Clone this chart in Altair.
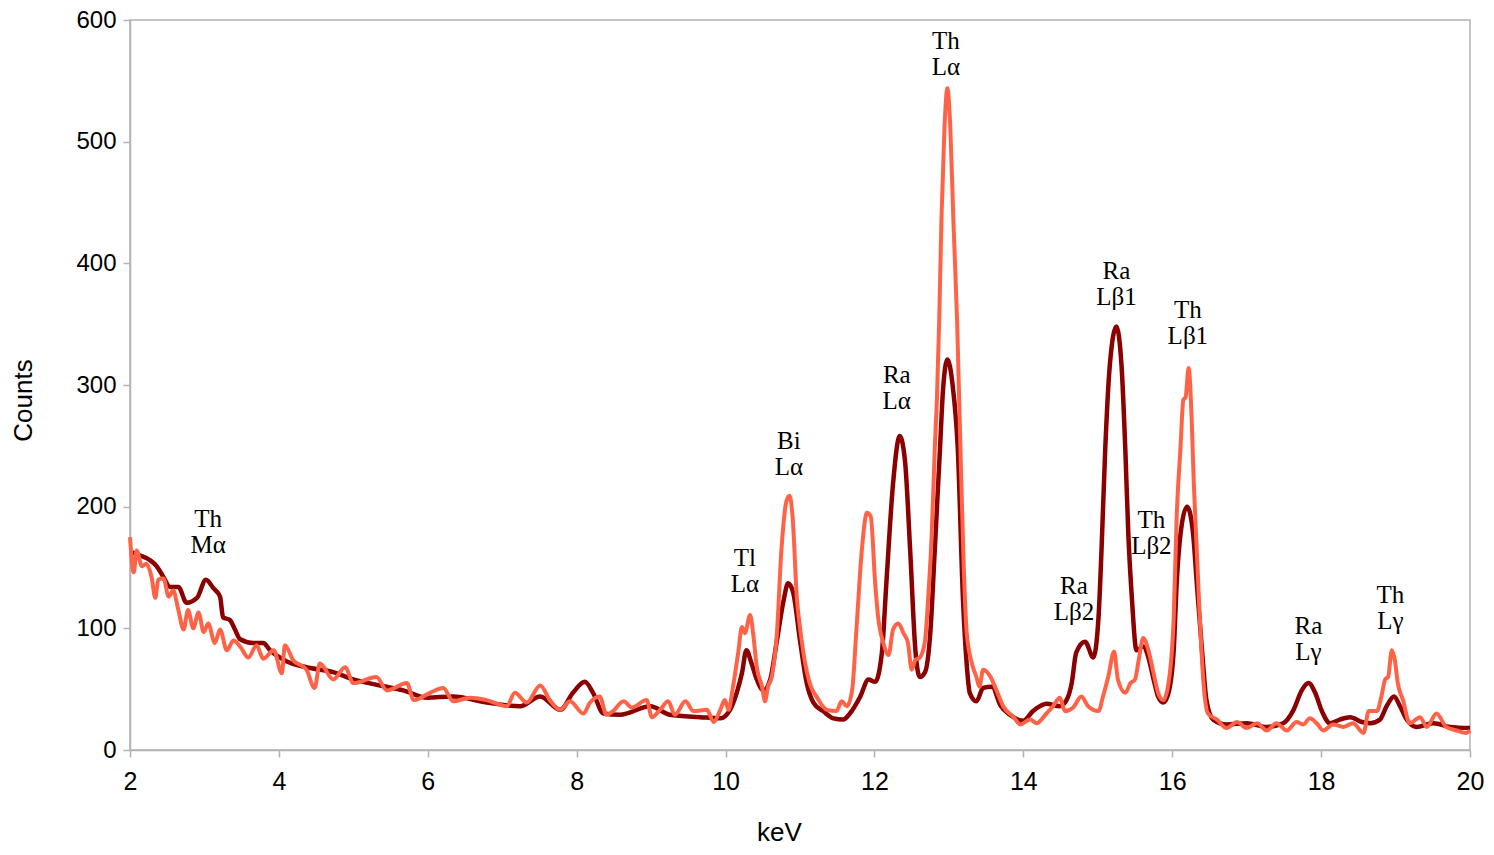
import altair as alt
import pandas as pd

# Series 1 (dark red)
dark_kev = [2.00, 2.13, 2.27, 2.36, 2.45, 2.54, 2.65, 2.76, 2.90, 3.02, 3.12, 3.21, 3.25, 3.34, 3.41,
            3.48, 3.65, 3.79, 3.88, 4.10, 4.37, 4.73, 5.00, 5.36, 5.67, 5.99, 6.34, 6.79, 7.24, 7.51,
            7.78, 7.95, 8.11, 8.22, 8.36, 8.58, 8.99, 9.25, 9.66, 9.93, 10.06, 10.15, 10.22, 10.28,
            10.35, 10.42, 10.51, 10.60, 10.69, 10.78, 10.84, 10.91, 11.00, 11.09, 11.18, 11.31, 11.45,
            11.58, 11.67, 11.81, 11.92, 12.01, 12.10, 12.16, 12.25, 12.34, 12.41, 12.48, 12.55, 12.61,
            12.68, 12.75, 12.81, 12.88, 12.92, 12.98, 13.05, 13.12, 13.19, 13.24, 13.28, 13.37,
            13.46, 13.58, 13.69, 13.82, 14.00, 14.13, 14.31, 14.49, 14.58, 14.65, 14.71, 14.83, 14.94,
            15.01, 15.05, 15.10, 15.16, 15.25, 15.32, 15.37, 15.41, 15.46, 15.52, 15.61, 15.68, 15.75,
            15.81, 15.88, 15.95, 16.02, 16.06, 16.13, 16.20, 16.28, 16.33, 16.40, 16.46, 16.55, 16.73,
            17.00, 17.27, 17.49, 17.63, 17.74, 17.83, 17.92, 18.01, 18.12, 18.25, 18.39, 18.55, 18.66,
            18.79, 18.88, 18.98, 19.06, 19.15, 19.28, 19.51, 19.73, 20.00]
dark_counts = [163, 160, 156, 151, 142, 134, 134, 121, 125, 140, 133, 126, 109, 107, 99,
               91, 88, 88, 82, 73, 68, 64, 58, 53, 49, 43, 44, 39, 36, 44,
               33, 47, 56, 47, 30, 29, 36, 29, 27, 26, 33, 47, 63, 82,
               71, 58, 49, 58, 90, 123, 137, 129, 90, 55, 39, 32, 26,
               25, 30, 44, 58, 56, 80, 137, 219, 258, 238, 164, 82, 60,
               64, 96, 164, 247, 295, 321, 300, 247, 123, 70, 47, 40,
               51, 52, 37, 29, 24, 32, 38, 36, 41, 55, 80, 89, 76,
               109, 164, 247, 315, 348, 315, 247, 178, 123, 82, 85, 76, 58,
               44, 39, 47, 82, 137, 186, 200, 178, 137, 82, 41, 25, 21,
               22, 19, 22, 33, 49, 55, 47, 32, 22, 25, 27, 23, 22,
               25, 36, 44, 36, 25, 19, 22, 19, 18]

# Series 2 (light red)
light_kev = [2.00, 2.05, 2.09, 2.16, 2.22, 2.29, 2.34, 2.38, 2.45, 2.52, 2.58, 2.65, 2.72, 2.78, 2.85,
             2.92, 2.99, 3.05, 3.14, 3.21, 3.30, 3.39, 3.48, 3.59, 3.70, 3.79, 3.93, 4.04, 4.08, 4.19,
             4.37, 4.48, 4.55, 4.73, 4.89, 5.00, 5.31, 5.45, 5.72, 5.81, 6.03, 6.21, 6.34, 6.57, 6.79,
             7.06, 7.17, 7.33, 7.51, 7.64, 7.78, 7.91, 8.09, 8.18, 8.31, 8.40, 8.49, 8.63, 8.74, 8.94,
             9.01, 9.12, 9.23, 9.32, 9.46, 9.57, 9.75, 9.84, 9.93, 9.99, 10.04, 10.10, 10.17, 10.22,
             10.26, 10.33, 10.37, 10.42, 10.49, 10.53, 10.57, 10.62, 10.69, 10.75, 10.82, 10.86, 10.90,
             10.96, 11.00, 11.07, 11.13, 11.22, 11.36, 11.49, 11.56, 11.63, 11.70, 11.76, 11.83, 11.90,
             11.95, 12.01, 12.05, 12.12, 12.19, 12.25, 12.32, 12.39, 12.45, 12.50, 12.55, 12.61, 12.68,
             12.72, 12.77, 12.81, 12.84, 12.87, 12.90, 12.94, 12.98, 13.02, 13.06, 13.11, 13.15, 13.20,
             13.24, 13.31, 13.37, 13.41, 13.46, 13.56, 13.64, 13.73, 13.87, 13.96, 14.09, 14.18, 14.31,
             14.40, 14.49, 14.56, 14.67, 14.78, 14.87, 15.01, 15.07, 15.14, 15.22, 15.27, 15.37, 15.44,
             15.50, 15.55, 15.61, 15.68, 15.75, 15.81, 15.88, 15.95, 16.02, 16.06, 16.11, 16.15, 16.18,
             16.22, 16.26, 16.29, 16.33, 16.37, 16.42, 16.48, 16.60, 16.73, 16.87, 17.00, 17.14, 17.27,
             17.40, 17.54, 17.67, 17.76, 17.85, 17.94, 18.03, 18.16, 18.30, 18.43, 18.57, 18.64, 18.75,
             18.81, 18.86, 18.90, 18.95, 18.99, 19.03, 19.10, 19.19, 19.33, 19.42, 19.55, 19.68, 19.82,
             19.95, 20.00]
light_counts = [175, 146, 164, 151, 153, 142, 125, 140, 141, 126, 131, 115, 99, 115, 100,
                113, 97, 104, 88, 99, 82, 90, 85, 76, 86, 75, 82, 63, 86, 74,
                66, 51, 71, 58, 68, 55, 60, 49, 55, 41, 47, 51, 40, 43, 41,
                36, 47, 39, 53, 41, 33, 40, 30, 39, 44, 29, 32, 40, 35, 41,
                27, 33, 40, 29, 40, 32, 33, 23, 33, 41, 33, 52, 80, 101,
                96, 111, 96, 68, 52, 40, 52, 60, 96, 164, 205, 209, 192,
                123, 101, 71, 55, 44, 33, 32, 40, 36, 49, 101, 164, 195,
                192, 137, 109, 88, 78, 99, 104, 96, 88, 66, 74, 76, 90,
                123, 178, 247, 290, 353, 436, 510, 544, 510, 436, 353, 260, 150,
                96, 71, 60, 52, 66, 60, 49, 36, 27, 21, 25, 22, 30,
                36, 43, 32, 35, 44, 36, 32, 44, 60, 81, 58, 47, 55,
                58, 74, 92, 82, 63, 47, 41, 55, 109, 192, 247, 288, 290,
                314, 274, 219, 164, 109, 55, 30, 25, 18, 23, 18, 22, 16,
                22, 16, 23, 21, 26, 22, 16, 21, 19, 22, 14, 32, 32,
                44, 58, 60, 82, 74, 55, 41, 22, 27, 19, 30, 19, 16,
                14, 16]

# Peak annotations
label_kev = [3.05, 10.26, 10.85, 12.30, 12.96, 14.68, 15.25, 15.72, 16.21, 17.83, 18.93]
label_counts = [190, 158, 254, 308, 583, 135, 394, 189, 362, 102, 127]
label_top = ["Th", "Tl", "Bi", "Ra", "Th", "Ra", "Ra", "Th", "Th", "Ra", "Th"]
label_bottom = ["Mα", "Lα", "Lα", "Lα", "Lα", "Lβ2", "Lβ1", "Lβ2", "Lβ1", "Lγ", "Lγ"]

x_ticks = [2, 4, 6, 8, 10, 12, 14, 16, 18, 20]
y_ticks = [0, 100, 200, 300, 400, 500, 600]

dark_df = pd.DataFrame({"keV": dark_kev, "Counts": dark_counts})
light_df = pd.DataFrame({"keV": light_kev, "Counts": light_counts})
lab_df = pd.DataFrame({"keV": label_kev, "Counts": label_counts,
                       "top": label_top, "bottom": label_bottom})

xscale = alt.Scale(domain=[2, 20], nice=False, zero=False)
yscale = alt.Scale(domain=[0, 600], nice=False)

xaxis = alt.Axis(values=x_ticks, format="d", title="keV", grid=False, domainColor="#b3b3b3",
                 tickColor="#b3b3b3", tickSize=7, tickWidth=1.5, domainWidth=1.5,
                 labelFont="Liberation Sans", labelFontSize=25, labelColor="#000000",
                 labelPadding=12, labelFlush=False, labelOverlap=False,
                 titleFont="Liberation Sans", titleFontSize=26,
                 titleFontWeight="normal", titleColor="#000000",
                 titleX=649, titleY=82, titleBaseline="middle")
yaxis = alt.Axis(values=y_ticks, format="d", title="Counts", grid=False, domainColor="#b3b3b3",
                 tickColor="#b3b3b3", tickSize=7, tickWidth=1.5, domainWidth=1.5,
                 labelFont="Liberation Sans", labelFontSize=24, labelColor="#000000",
                 labelPadding=7, labelFlush=False, labelOverlap=False,
                 titleFont="Liberation Sans", titleFontSize=26,
                 titleFontWeight="normal", titleColor="#000000",
                 titleX=-107, titleY=380, titleBaseline="middle")

dark = alt.Chart(dark_df).mark_line(color="#8b0000", strokeWidth=4.5,
                                    interpolate="monotone").encode(
    x=alt.X("keV:Q", scale=xscale, axis=xaxis),
    y=alt.Y("Counts:Q", scale=yscale, axis=yaxis),
    order=alt.Order("keV:Q"),
)
light = alt.Chart(light_df).mark_line(color="#ff6347", strokeWidth=4,
                                      interpolate="monotone").encode(
    x=alt.X("keV:Q", scale=xscale),
    y=alt.Y("Counts:Q", scale=yscale),
    order=alt.Order("keV:Q"),
)
top_txt = alt.Chart(lab_df).mark_text(font="Liberation Serif", fontSize=25,
                                      color="#000000", baseline="middle",
                                      align="center").encode(
    x=alt.X("keV:Q", scale=xscale), y=alt.Y("Counts:Q", scale=yscale), text="top:N")
bot_txt = alt.Chart(lab_df).mark_text(font="Liberation Serif", fontSize=25,
                                      color="#000000", baseline="middle",
                                      align="center", dy=26).encode(
    x=alt.X("keV:Q", scale=xscale), y=alt.Y("Counts:Q", scale=yscale), text="bottom:N")

chart = alt.layer(dark, light, top_txt, bot_txt).properties(
    width=1340, height=730,
    autosize=alt.AutoSizeParams(type="none"),
    padding={"left": 122, "top": 12, "right": 16, "bottom": 95},
).configure_view(stroke="#b3b3b3", strokeWidth=1.5)

chart.save("out.html", embed_options={"renderer": "svg", "actions": False})
